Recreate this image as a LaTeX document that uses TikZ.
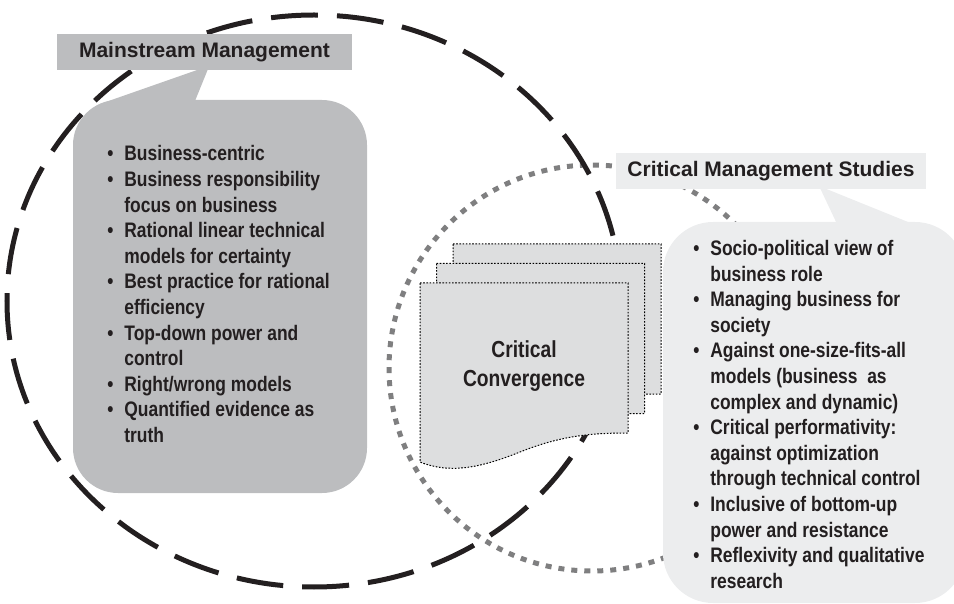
\documentclass[tikz,border=0pt]{standalone}
\usepackage{fontspec}
\setmainfont{Liberation Sans}
\newfontfamily\narrowsans{Liberation Sans}[FakeStretch=0.83]
\usepackage{xcolor}
\usepackage{tikz}
\definecolor{mmgray}{HTML}{BCBDBF}
\definecolor{cmsgray}{HTML}{ECEDEE}
\definecolor{pagegray}{HTML}{DDDEDF}
\definecolor{dotgray}{HTML}{7F7F80}
\definecolor{ink}{HTML}{231F20}
\tikzstyle{header} = [inner sep=0pt, minimum height=18pt, text=ink, font=\fontsize{10.5}{12.6}\selectfont\bfseries]
\tikzstyle{bubble} = [inner sep=0pt, draw=none]
\tikzstyle{bullets} = [inner sep=0pt, anchor=base west, text=ink, font=\narrowsans\fontsize{10.5}{12.8}\selectfont\bfseries]
\tikzstyle{page} = [fill=pagegray, draw=black, line width=0.5pt, dash pattern=on 0.8pt off 0.8pt]
\newcommand{\bul}{\makebox[8.5pt][l]{\textbullet}}
\newcommand{\cont}{\hspace*{8.5pt}}

\begin{document}
\begin{tikzpicture}[x=0.5pt, y=-0.5pt]
    \useasboundingbox (0,0) rectangle (954,604);

    \draw[dotgray, line width=2.5pt, dash pattern=on 3pt off 3.5pt] (592,368) circle [radius=101.5pt];
    \draw[ink, line width=2.5pt, dash pattern=on 23.5pt off 9.5pt] (314,301) ellipse [x radius=153.5pt, y radius=143pt];

    \foreach \dx/\dy in {33/-39, 16.5/-19.5, 0/0}
        \draw[page, shift={(\dx,\dy)}] (420,283) -- (628,283) -- (628,433)
            .. controls (590,433) and (560,436) .. (520,452)
            .. controls (480,468) and (450,474) .. (420,462) -- cycle;
    \node[text=ink, align=center, font=\narrowsans\fontsize{11.6}{14.5}\selectfont\bfseries] (conv) at (524,366) {Critical\\Convergence};

    \node[bubble, fill=mmgray, rounded corners=22.5pt, minimum width=147pt, minimum height=196.5pt] (mmbox) at (220,296.5) {};
    \fill[mmgray] (100,104) -- (200,69) -- (208,69) -- (195,101) -- cycle;
    \node[header, fill=mmgray, minimum width=147.5pt] (mmhead) at (204.5,52) {Mainstream Management};

    \node[bubble, fill=cmsgray, rounded corners=25pt, minimum width=151pt, minimum height=190.5pt] (cmsbox) at (814,412.5) {};
    \fill[cmsgray] (837,224) -- (820,188) -- (824,188) -- (913,224) -- cycle;
    \node[header, fill=cmsgray, minimum width=155pt] (cmshead) at (771,171) {Critical Management Studies};

    \node[bullets] (mmlist) at (107,161) {\begin{tabular}[t]{@{}l@{}}
        \bul Business-centric\\
        \bul Business responsibility\\
        \cont focus on business\\
        \bul Rational linear technical\\
        \cont models for certainty\\
        \bul Best practice for rational\\
        \cont efficiency\\
        \bul Top-down power and\\
        \cont control\\
        \bul Right/wrong models\\
        \bul Quantified evidence as\\
        \cont truth
    \end{tabular}};

    \node[bullets] (cmslist) at (693,255.5) {\begin{tabular}[t]{@{}l@{}}
        \bul Socio-political view of\\
        \cont business role\\
        \bul Managing business for\\
        \cont society\\
        \bul Against one-size-fits-all\\
        \cont models (business\ \ as\\
        \cont complex and dynamic)\\
        \bul Critical performativity:\\
        \cont against optimization\\
        \cont through technical control\\
        \bul Inclusive of bottom-up\\
        \cont power and resistance\\
        \bul Reflexivity and qualitative\\
        \cont research
    \end{tabular}};
\end{tikzpicture}
\end{document}
